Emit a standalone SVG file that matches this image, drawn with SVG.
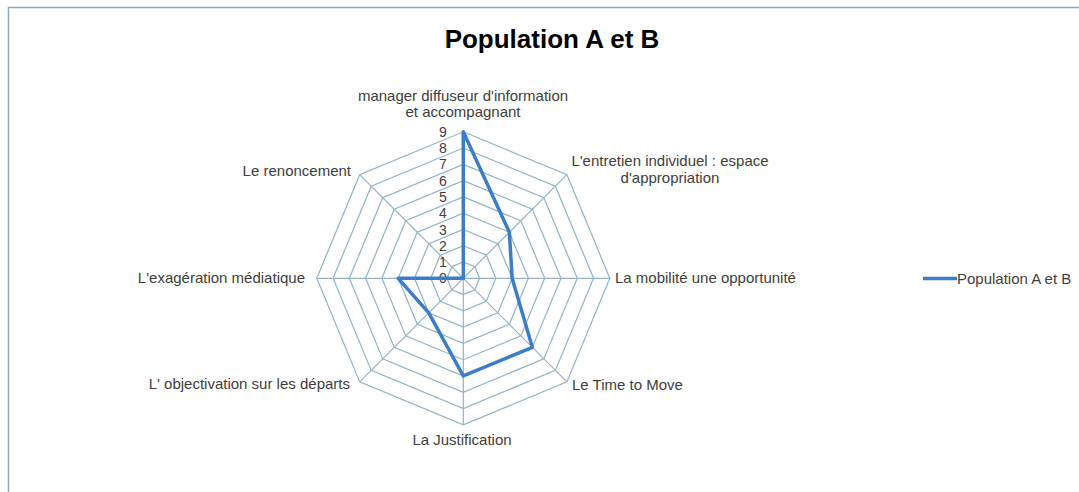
<svg xmlns="http://www.w3.org/2000/svg" width="1079" height="492" viewBox="0 0 1079 492">
<style>
.grid{fill:none;stroke:#93b4c6;stroke-width:1.2}
.lbl{font-family:"Liberation Sans",Arial,sans-serif;font-size:15px;fill:#404040}
.num{font-family:"Liberation Sans",Arial,sans-serif;font-size:14px;fill:#404040;text-anchor:end}
.title{font-family:"Liberation Sans",Arial,sans-serif;font-size:26px;font-weight:bold;fill:#000;text-anchor:middle}
.data{fill:none;stroke:#3c7dc8;stroke-width:3.5;stroke-linejoin:round}
</style>
<rect x="0" y="0" width="1079" height="492" fill="#ffffff"/>
<g id="frame">
<line x1="8" y1="7.5" x2="1079" y2="7.5" stroke="#8eaabf" stroke-width="1.5"/>
<line x1="8.5" y1="7" x2="8.5" y2="492" stroke="#8eaabf" stroke-width="1.5"/>
</g>
<text id="title" class="title" x="552" y="48">Population A et B</text>
<g id="chart" transform="translate(463.3,278.3)">
<g id="grid">
<polygon class="grid" points="0,-16.28 11.51,-11.51 16.28,0 11.51,11.51 0,16.28 -11.51,11.51 -16.28,0 -11.51,-11.51"/>
<polygon class="grid" points="0,-32.56 23.02,-23.02 32.56,0 23.02,23.02 0,32.56 -23.02,23.02 -32.56,0 -23.02,-23.02"/>
<polygon class="grid" points="0,-48.84 34.54,-34.54 48.84,0 34.54,34.54 0,48.84 -34.54,34.54 -48.84,0 -34.54,-34.54"/>
<polygon class="grid" points="0,-65.12 46.05,-46.05 65.12,0 46.05,46.05 0,65.12 -46.05,46.05 -65.12,0 -46.05,-46.05"/>
<polygon class="grid" points="0,-81.4 57.56,-57.56 81.4,0 57.56,57.56 0,81.4 -57.56,57.56 -81.4,0 -57.56,-57.56"/>
<polygon class="grid" points="0,-97.68 69.07,-69.07 97.68,0 69.07,69.07 0,97.68 -69.07,69.07 -97.68,0 -69.07,-69.07"/>
<polygon class="grid" points="0,-113.96 80.58,-80.58 113.96,0 80.58,80.58 0,113.96 -80.58,80.58 -113.96,0 -80.58,-80.58"/>
<polygon class="grid" points="0,-130.24 92.09,-92.09 130.24,0 92.09,92.09 0,130.24 -92.09,92.09 -130.24,0 -92.09,-92.09"/>
<polygon class="grid" points="0,-146.52 103.61,-103.61 146.52,0 103.61,103.61 0,146.52 -103.61,103.61 -146.52,0 -103.61,-103.61"/>
<path class="grid" d="M0,0V-146.52M0,0L103.61,-103.61M0,0H146.52M0,0L103.61,103.61M0,0V146.52M0,0L-103.61,103.61M0,0H-146.52M0,0L-103.61,-103.61"/>
</g>
<g id="scale">
<text class="num" x="-16.5" y="5">0</text>
<text class="num" x="-16.5" y="-11.3">1</text>
<text class="num" x="-16.5" y="-27.6">2</text>
<text class="num" x="-16.5" y="-43.8">3</text>
<text class="num" x="-16.5" y="-60.1">4</text>
<text class="num" x="-16.5" y="-76.4">5</text>
<text class="num" x="-16.5" y="-92.7">6</text>
<text class="num" x="-16.5" y="-109">7</text>
<text class="num" x="-16.5" y="-125.2">8</text>
<text class="num" x="-16.5" y="-141.5">9</text>
</g>
<g id="series">
<polygon class="data" points="0,-146.52 46.05,-46.05 48.84,0 69.07,69.07 0,97.68 -34.54,34.54 -65.12,0 0,0"/>
</g>
</g>
<g id="axis-labels">
<text class="lbl" x="463" y="101" text-anchor="middle">manager diffuseur d'information</text>
<text class="lbl" x="463" y="117" text-anchor="middle">et accompagnant</text>
<text class="lbl" x="670" y="166" text-anchor="middle">L'entretien individuel : espace</text>
<text class="lbl" x="670" y="183" text-anchor="middle">d'appropriation</text>
<text class="lbl" x="615" y="283">La mobilité une opportunité</text>
<text class="lbl" x="572" y="390">Le Time to Move</text>
<text class="lbl" x="462" y="445" text-anchor="middle">La Justification</text>
<text class="lbl" x="350" y="389" text-anchor="end">L' objectivation sur les départs</text>
<text class="lbl" x="305" y="283" text-anchor="end">L'exagération médiatique</text>
<text class="lbl" x="351" y="176" text-anchor="end">Le renoncement</text>
</g>
<g id="legend">
<line x1="923" y1="278.5" x2="957" y2="278.5" stroke="#3c7dc8" stroke-width="3.5"/>
<text class="lbl" x="957" y="284">Population A et B</text>
</g>
</svg>
